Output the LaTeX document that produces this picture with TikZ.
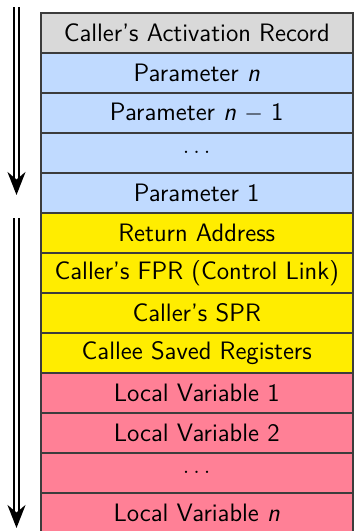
\documentclass[tikz,border=0pt]{standalone}
\usetikzlibrary{arrows.meta}
\definecolor{hdrgray}{RGB}{217,217,217}
\definecolor{parblue}{RGB}{192,218,255}
\definecolor{linkyellow}{RGB}{255,237,0}
\definecolor{locpink}{RGB}{255,128,150}
\definecolor{edgegray}{RGB}{60,60,60}
\begin{document}
\begin{tikzpicture}[x=0.5pt,y=-0.5pt,
  cell/.style={draw=edgegray, line width=0.75pt, minimum width=156pt, minimum height=20pt,
    inner sep=0pt, anchor=north west, font=\sffamily\fontsize{12.6}{15}\selectfont},
  growarrow/.style={double, double distance=1.2pt, line width=1pt,
    -{Stealth[length=11.5pt,width=9pt]}}]
\useasboundingbox (0,0) rectangle (355,531);
\node[cell, fill=hdrgray] (r0) at (40,12) {Caller's Activation Record};
\node[cell, fill=parblue] (r1) at (40,52) {Parameter \textit{n}};
\node[cell, fill=parblue] (r2) at (40,92) {Parameter \textit{n} $-$ 1};
\node[cell, fill=parblue] (r3) at (40,132) {$\ldots$};
\node[cell, fill=parblue] (r4) at (40,172) {Parameter 1};
\node[cell, fill=linkyellow] (r5) at (40,212) {Return Address};
\node[cell, fill=linkyellow] (r6) at (40,252) {Caller's FPR (Control Link)};
\node[cell, fill=linkyellow] (r7) at (40,292) {Caller's SPR};
\node[cell, fill=linkyellow] (r8) at (40,332) {Callee Saved Registers};
\node[cell, fill=locpink] (r9) at (40,372) {Local Variable 1};
\node[cell, fill=locpink] (r10) at (40,412) {Local Variable 2};
\node[cell, fill=locpink] (r11) at (40,452) {$\ldots$};
\node[cell, fill=locpink] (r12) at (40,492) {Local Variable \textit{n}};
\coordinate (a1s) at (16.5,7);
\coordinate (a1e) at (16.5,195);
\coordinate (a2s) at (16.5,218);
\coordinate (a2e) at (16.5,528);
\draw[growarrow] (a1s) -- (a1e);
\draw[growarrow] (a2s) -- (a2e);
\end{tikzpicture}
\end{document}
